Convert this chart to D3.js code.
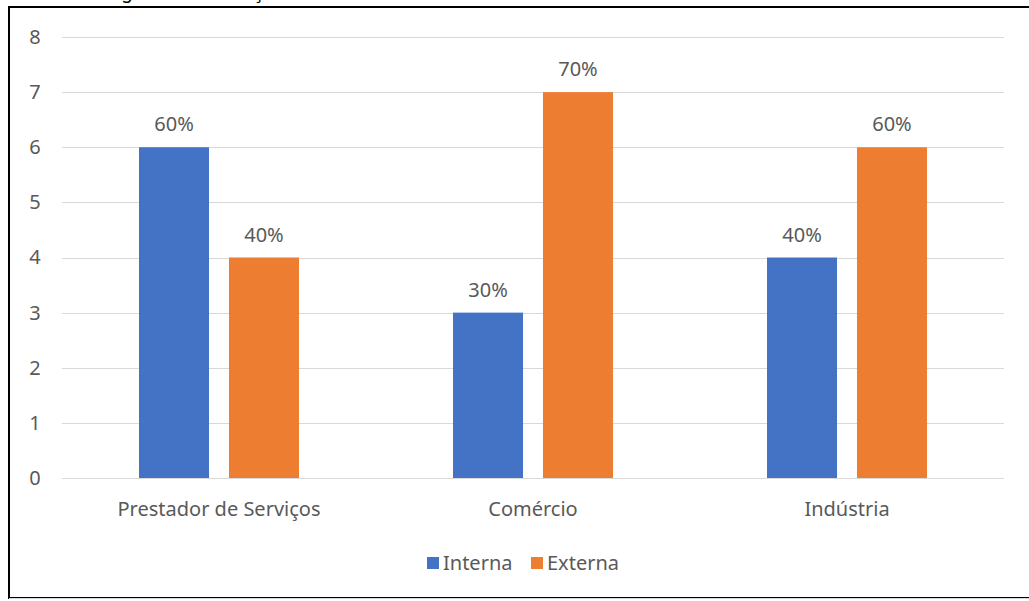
<!DOCTYPE html>
<html>
<head>
<meta charset="utf-8">
<script src="https://cdn.jsdelivr.net/npm/d3@7"></script>
<style>
  body { margin: 0; background: #fff; }
  svg { display: block; font-family: "Noto Sans", "Open Sans", sans-serif; }
</style>
</head>
<body>
<div id="chart"></div>
<script>
// --- Origem da informação por segmento ---
const categories = ["Prestador de Serviços", "Comércio", "Indústria"];
const seriesNames = ["Interna", "Externa"];
const interna = [6, 3, 4];
const externa = [4, 7, 6];
const labelsInterna = ["60%", "30%", "40%"];
const labelsExterna = ["40%", "70%", "60%"];
const yTicks = [0, 1, 2, 3, 4, 5, 6, 7, 8];

const colors = { Interna: "#4472C4", Externa: "#ED7D31" };
const textColor = "#595959";
const fontSize = 20;

const width = 1029, height = 601;
const svg = d3.select("#chart").append("svg")
    .attr("width", width)
    .attr("height", height);

// caption sits above the frame, only its descenders reach into view
svg.append("text")
    .attr("x", 96)
    .attr("y", -2)
    .attr("font-size", 19)
    .attr("letter-spacing", -0.8)
    .attr("fill", "#000")
    .text("Origem da informação");

// frame
svg.append("rect")
    .attr("x", 9).attr("y", 7)
    .attr("width", 1040).attr("height", 591)
    .attr("fill", "#fff")
    .attr("stroke", "#000")
    .attr("stroke-width", 2);
svg.append("line")
    .attr("x1", 9).attr("x2", width)
    .attr("y1", 598.5).attr("y2", 598.5)
    .attr("stroke", "#d9d9d9");

const plot = { left: 62, right: 1004, top: 37, bottom: 478 };

const y = d3.scaleLinear().domain([0, 8]).range([plot.bottom, plot.top]);
const x0 = d3.scaleBand().domain(categories).range([plot.left, plot.right]).padding(0);
const x1 = d3.scaleBand().domain(seriesNames).range([77, 237]).paddingInner(0.222);

// grid
svg.append("g").selectAll("line")
    .data(yTicks)
    .enter().append("line")
    .attr("x1", plot.left).attr("x2", plot.right)
    .attr("y1", d => Math.round(y(d)) + 0.5)
    .attr("y2", d => Math.round(y(d)) + 0.5)
    .attr("stroke", "#d9d9d9")
    .attr("stroke-width", 1);

// y tick labels
const yAxis = svg.append("g")
    .attr("transform", `translate(35,0)`)
    .call(d3.axisLeft(y).tickValues(yTicks).tickSize(0).tickPadding(0));
yAxis.select(".domain").remove();
yAxis.selectAll("text")
    .attr("font-family", "\"Noto Sans\", sans-serif")
    .attr("font-size", fontSize)
    .attr("fill", textColor)
    .attr("text-anchor", "middle");

// x category labels
const xAxis = svg.append("g")
    .attr("transform", `translate(0,${plot.bottom})`)
    .call(d3.axisBottom(x0).tickSize(0).tickPadding(24));
xAxis.select(".domain").remove();
xAxis.selectAll("text")
    .attr("font-family", "\"Noto Sans\", sans-serif")
    .attr("font-size", fontSize)
    .attr("fill", textColor);

// bars
const rows = categories.map((c, i) => ({
    category: c,
    values: [
        { key: "Interna", value: interna[i], label: labelsInterna[i] },
        { key: "Externa", value: externa[i], label: labelsExterna[i] }
    ]
}));

const groups = svg.append("g").selectAll("g")
    .data(rows)
    .enter().append("g")
    .attr("transform", d => `translate(${x0(d.category)},0)`);

groups.selectAll("rect")
    .data(d => d.values)
    .enter().append("rect")
    .attr("x", d => x1(d.key))
    .attr("y", d => y(d.value))
    .attr("width", x1.bandwidth())
    .attr("height", d => y(0) - y(d.value))
    .attr("fill", d => colors[d.key]);

groups.selectAll(".lbl")
    .data(d => d.values)
    .enter().append("text")
    .attr("class", "lbl")
    .attr("x", d => x1(d.key) + x1.bandwidth() / 2)
    .attr("y", d => y(d.value) - 16)
    .attr("text-anchor", "middle")
    .attr("font-size", fontSize)
    .attr("fill", textColor)
    .text(d => d.label);

// legend
const legend = svg.append("g").attr("transform", "translate(427,563)");
const legendItems = [
    { key: "Interna", x: 0 },
    { key: "Externa", x: 104 }
];
legend.selectAll("rect")
    .data(legendItems)
    .enter().append("rect")
    .attr("x", d => d.x)
    .attr("y", -6)
    .attr("width", 12).attr("height", 12)
    .attr("fill", d => colors[d.key]);
legend.selectAll("text")
    .data(legendItems)
    .enter().append("text")
    .attr("x", d => d.x + 16)
    .attr("y", 0)
    .attr("dy", "0.35em")
    .attr("font-size", fontSize)
    .attr("fill", textColor)
    .text(d => d.key);
</script>
</body>
</html>
